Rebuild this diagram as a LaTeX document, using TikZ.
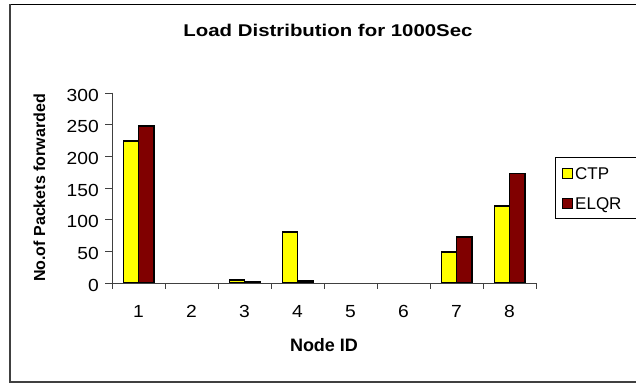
\documentclass[tikz,border=0pt]{standalone}
\usepackage{fontspec}
\setmainfont{Liberation Sans}
\newfontfamily\widefont{Liberation Sans}[FakeStretch=1.2]
\newfontfamily\midfont{Liberation Sans}[FakeStretch=1.1]
\definecolor{ctpyellow}{HTML}{FFFF00}
\definecolor{elqrred}{HTML}{800000}
\definecolor{framegray}{HTML}{404040}
\tikzset{
  axisline/.style={draw=black!75, line width=1pt},
  barbox/.style={draw=black, line width=1.6pt},
  ticklabel/.style={inner sep=0pt, font=\midfont\fontsize{17.5}{19}\selectfont},
  axistitle/.style={inner sep=0pt, font=\fontsize{16}{18}\selectfont\bfseries},
  legtext/.style={inner sep=0pt, anchor=base west, font=\fontsize{17}{19}\selectfont},
}
\begin{document}
\begin{tikzpicture}[x=1pt,y=-1pt]
\useasboundingbox (0,0) rectangle (636,383);
\clip (0,0) rectangle (636,383);
\fill[white] (0,0) rectangle (636,383);
% chart frame
\draw[black, line width=1pt] (9,4.5) -- (640,4.5);
\draw[framegray, line width=2pt] (10,4) -- (10,383);
\draw[framegray, line width=2.6pt] (9,382) -- (640,382);
% title
\node[inner sep=0pt, anchor=base, font=\widefont\fontsize{17}{20}\selectfont\bfseries] (title) at (328,36) {Load Distribution for 1000Sec};
% bars CTP
\foreach \i/\v in {1/224,3/5,4/81,7/49,8/122}
  \filldraw[barbox, fill=ctpyellow] ({112+53*(\i-1)+11.3},283) rectangle ++(15.2,{-\v*0.6333});
% bars ELQR
\foreach \i/\v in {1/248,3/2,4/3,7/73,8/173}
  \filldraw[barbox, fill=elqrred] ({112+53*(\i-1)+26.5},283) rectangle ++(15.2,{-\v*0.6333});
% axes
\coordinate (ytop) at (112,92.7);
\coordinate (origin) at (112,283);
\coordinate (xend) at (536,283);
\draw[axisline] (ytop) -- (origin) -- (xend);
\foreach \k in {0,...,6} {
  \draw[axisline] (105,{283-\k*31.667}) -- (112,{283-\k*31.667});
  \pgfmathtruncatemacro{\lab}{50*\k}
  \node[ticklabel, anchor=base east] (ylab\k) at (99,{283-\k*31.667+8}) {\lab};
}
\foreach \k in {0,...,8}
  \draw[axisline] ({112+53*\k},283) -- ({112+53*\k},288.5);
\foreach \k in {1,...,8}
  \node[ticklabel, anchor=base] (xlab\k) at ({112+53*(\k-0.5)},317) {\k};
% axis titles
\node[axistitle, anchor=base, font=\fontsize{18}{20}\selectfont\bfseries] (xtitle) at (324,351) {Node ID};
\node[axistitle, anchor=base, rotate=90] (ytitle) at (45,188) {No.of Packets forwarded};
% legend
\draw[black, line width=0.8pt] (555,157.5) rectangle (640,218.3);
\filldraw[black, line width=1.4pt, fill=ctpyellow] (562.5,168.5) rectangle (572.5,178.3);
\filldraw[black, line width=1.4pt, fill=elqrred] (562.5,198.5) rectangle (572.5,208.3);
\node[legtext] (legctp) at (575,179) {CTP};
\node[legtext] (legelqr) at (575,209) {ELQR};
\end{tikzpicture}
\end{document}
